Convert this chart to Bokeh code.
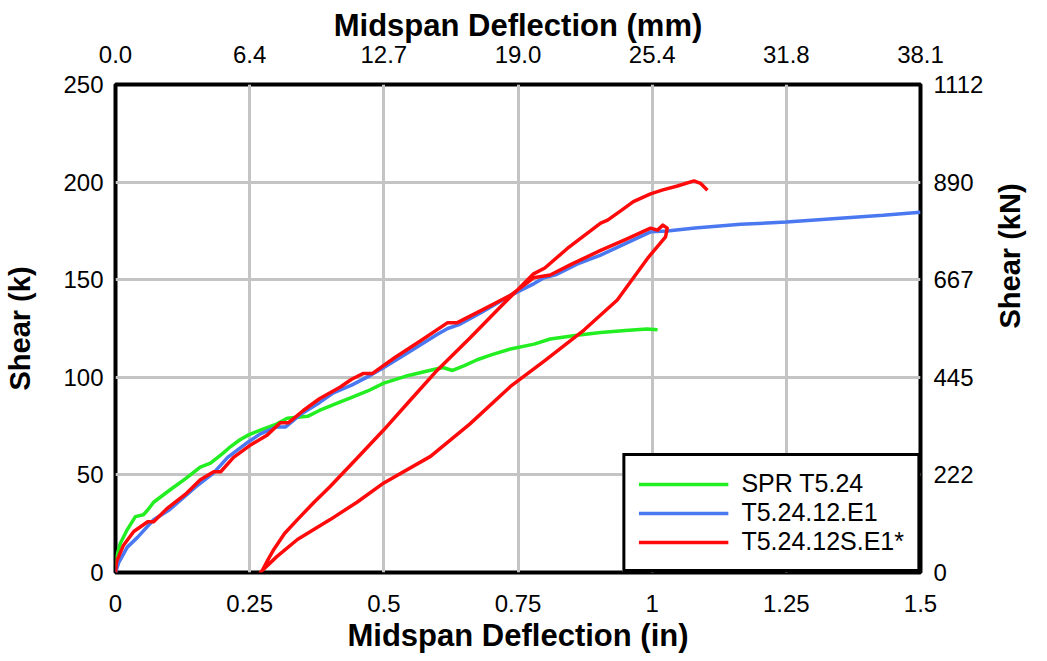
import math
from bokeh.plotting import figure
from bokeh.models import LinearAxis, FixedTicker, Legend, LegendItem, Range1d
from bokeh.embed import file_html
from bokeh.resources import INLINE

# ---- data (deflection in inches, shear in kips) ----
spr_x = [0, 0.002, 0.009, 0.022, 0.037, 0.052, 0.06, 0.071, 0.10, 0.13, 0.158, 0.177, 0.20,
         0.214, 0.232, 0.248, 0.276, 0.30, 0.32, 0.358, 0.38, 0.419, 0.438, 0.47, 0.5, 0.54,
         0.593, 0.61, 0.628, 0.65, 0.674, 0.70, 0.736, 0.78, 0.81, 0.86, 0.904, 0.95, 0.99, 1.01]
spr_y = [3, 8, 15, 22, 28.6, 29.6, 32, 36, 42, 48, 54, 56, 61,
         64.4, 68, 70.5, 73.6, 76, 79, 80, 83, 87.4, 89.5, 93, 97, 100.5,
         104, 105, 103.5, 106, 109, 111.5, 114.5, 117, 119.6, 121.5, 123, 124, 124.8, 124.3]

e1_x = [0, 0.006, 0.022, 0.041, 0.071, 0.10, 0.121, 0.15, 0.183, 0.209, 0.248, 0.27, 0.30,
        0.317, 0.345, 0.38, 0.406, 0.44, 0.475, 0.5, 0.55, 0.60, 0.619, 0.64, 0.68, 0.736,
        0.78, 0.797, 0.82, 0.86, 0.904, 0.95, 0.997, 1.028, 1.08, 1.165, 1.25, 1.35, 1.43, 1.5]
e1_y = [0, 5, 13, 18, 27, 32, 37, 44, 51, 59, 67, 71, 74.6,
        74.6, 81, 87, 92, 96, 101, 105, 113.5, 122, 125, 127, 133, 142,
        148, 150.8, 152.5, 158, 162.6, 168.5, 174.5, 175, 176.5, 178.4, 179.5, 181.5, 183, 184.6]

s_x = [0, 0.002, 0.015, 0.034, 0.06, 0.071, 0.097, 0.13, 0.158, 0.183, 0.196, 0.22, 0.25,
       0.283, 0.307, 0.322, 0.35, 0.38, 0.419, 0.44, 0.462, 0.479, 0.52, 0.57, 0.619, 0.637,
       0.68, 0.736, 0.779, 0.81, 0.85, 0.904, 0.95, 0.997, 1.01, 1.02, 1.028,
       1.025, 0.993, 0.935, 0.873, 0.80, 0.736, 0.66, 0.587, 0.5, 0.45, 0.40, 0.339, 0.30,
       0.274, 0.27,
       0.274, 0.285, 0.295, 0.315, 0.339, 0.37, 0.40, 0.45, 0.5, 0.55, 0.60, 0.66, 0.717,
       0.75, 0.779, 0.80, 0.842, 0.904, 0.917, 0.94, 0.965, 0.997, 1.02, 1.047, 1.078,
       1.09, 1.103]
s_y = [0, 5.6, 14, 21, 26, 26, 33, 40, 47.5, 51.6, 51.6, 59, 65,
       70.5, 76.7, 76.7, 83, 89, 95, 99, 102, 102, 110, 119, 128, 128,
       134, 142, 151, 152.4, 158, 165, 170.5, 176.4, 175.4, 178, 176.4,
       172, 161.5, 139.6, 124.2, 108.6, 95.3, 76, 59.5, 45.9, 36, 27.1, 16.9, 8,
       1.2, 0,
       1.2, 7, 11.8, 20, 27.1, 36, 44.1, 58.5, 73.1, 88.5, 103.8, 120, 136,
       145, 153, 156, 166, 179, 180.5, 185, 190, 194, 196, 198, 200.6,
       199.4, 195.8]

series_names = ["SPR T5.24", "T5.24.12.E1", "T5.24.12S.E1*"]
series_colors = ["#22ee22", "#4a78f0", "#ff0a0a"]

x_ticks = [0, 0.25, 0.5, 0.75, 1.0, 1.25, 1.5]
x_labels = ["0", "0.25", "0.5", "0.75", "1", "1.25", "1.5"]
mm_labels = ["0.0", "6.4", "12.7", "19.0", "25.4", "31.8", "38.1"]
y_ticks = [0, 50, 100, 150, 200, 250]
y_labels = ["0", "50", "100", "150", "200", "250"]
kn_labels = ["0", "222", "445", "667", "890", "1112"]

FONT = "Liberation Sans"

p = figure(width=1047, height=655, output_backend="svg", toolbar_location=None,
           x_range=Range1d(0, 1.5), y_range=Range1d(0, 250),
           min_border_left=115, min_border_right=127, min_border_top=84, min_border_bottom=82,
           x_axis_label="Midspan Deflection (in)", y_axis_label="Shear (k)")
p.background_fill_color = "white"
p.border_fill_color = "white"
p.outline_line_color = "black"
p.outline_line_width = 4

top_axis = LinearAxis(axis_label="Midspan Deflection (mm)")
right_axis = LinearAxis(axis_label="Shear (kN)")
p.add_layout(top_axis, "above")
p.add_layout(right_axis, "right")
bottom_axis = p.below[0]
left_axis = p.left[0]

def style(ax, ticks, labels, label_standoff, title_standoff, title_size):
    ax.ticker = FixedTicker(ticks=ticks)
    ax.major_label_overrides = {t: l for t, l in zip(ticks, labels)}
    ax.axis_line_color = None
    ax.major_tick_line_color = None
    ax.minor_tick_line_color = None
    ax.major_tick_out = 0
    ax.major_tick_in = 0
    ax.minor_tick_out = 0
    ax.major_label_text_font = FONT
    ax.major_label_text_font_size = "24px"
    ax.major_label_text_color = "black"
    ax.major_label_standoff = label_standoff
    ax.axis_label_text_font = FONT
    ax.axis_label_text_font_size = title_size
    ax.axis_label_text_font_style = "bold"
    ax.axis_label_text_color = "black"
    ax.axis_label_standoff = title_standoff

style(bottom_axis, x_ticks, x_labels, 22, 3, "31px")
style(top_axis, x_ticks, mm_labels, 22, 0, "31px")
style(left_axis, y_ticks, y_labels, 12, 24, "29px")
style(right_axis, y_ticks, kn_labels, 13, 24, "29px")
left_axis.major_label_orientation = "horizontal"
right_axis.major_label_orientation = "horizontal"
right_axis.axis_label_orientation = math.pi / 2
right_axis.axis_label_text_baseline = "bottom"
top_axis.axis_label_text_baseline = "bottom"

p.xgrid.ticker = FixedTicker(ticks=x_ticks)
p.ygrid.ticker = FixedTicker(ticks=y_ticks)
for g in (p.xgrid[0], p.ygrid[0]):
    g.grid_line_color = "#c4c4c4"
    g.grid_line_width = 3

r1 = p.line(spr_x, spr_y, line_color=series_colors[0], line_width=3.5)
r2 = p.line(e1_x, e1_y, line_color=series_colors[1], line_width=3.5)
r3 = p.line(s_x, s_y, line_color=series_colors[2], line_width=3.5, line_join="round")

legend = Legend(items=[LegendItem(label=n, renderers=[r]) for n, r in zip(series_names, [r1, r2, r3])],
                location="bottom_right", margin=0, padding=13, spacing=0,
                label_height=28, glyph_height=28, glyph_width=90, label_standoff=13,
                border_line_color="black", border_line_width=3, border_line_alpha=1,
                background_fill_color="white", background_fill_alpha=1,
                label_text_font=FONT, label_text_font_size="25px", label_text_color="black")
p.add_layout(legend)

open("out.html", "w").write(file_html(p, INLINE))
